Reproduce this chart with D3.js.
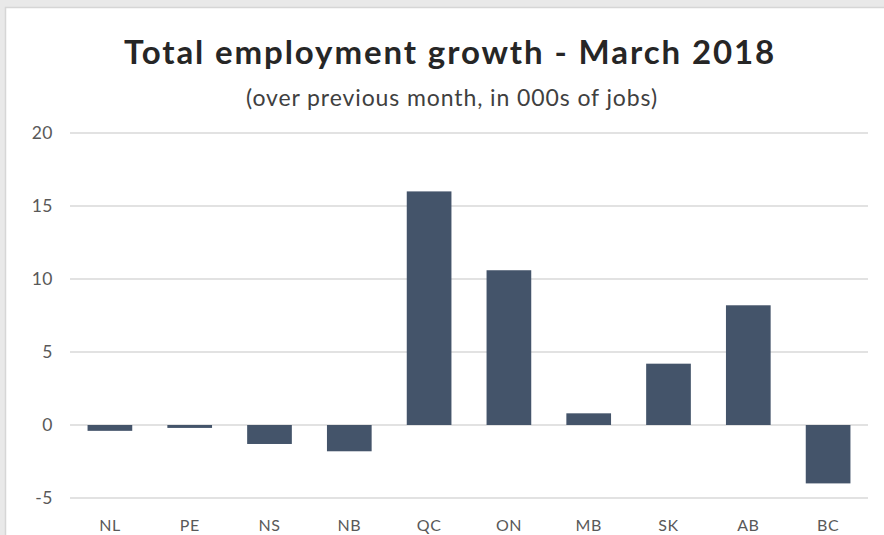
<!DOCTYPE html>
<html>
<head>
<meta charset="utf-8">
<script src="https://cdn.jsdelivr.net/npm/d3@7"></script>
<style>
  html, body { margin: 0; padding: 0; background: #e9e9e9; }
  svg { display: block; }
</style>
</head>
<body>
<script>
const provinces = ["NL", "PE", "NS", "NB", "QC", "ON", "MB", "SK", "AB", "BC"];
const growth = [-0.4, -0.2, -1.3, -1.8, 16.0, 10.6, 0.8, 4.2, 8.2, -4.0];
const yTicks = [-5, 0, 5, 10, 15, 20];
const titleText = "Total employment growth - March 2018";
const subtitleText = "(over previous month, in 000s of jobs)";

const W = 884, H = 535;
const svg = d3.select("body").append("svg").attr("width", W).attr("height", H);

// outer frame
svg.append("rect").attr("x", 0).attr("y", 0).attr("width", W).attr("height", H).attr("fill", "#e9e9e9");
svg.append("rect").attr("x", 5.5).attr("y", 7.5).attr("width", W).attr("height", H).attr("fill", "#fff").attr("stroke", "#d6d6d6").attr("stroke-width", 1.5);

const x = d3.scaleBand().domain(provinces).range([70, 868]).paddingInner(0.44).paddingOuter(0.22);
const y = d3.scaleLinear().domain([-5, 20]).range([498, 133]);

// gridlines
svg.append("g").selectAll("line").data(yTicks).join("line")
  .attr("x1", 70).attr("x2", 868)
  .attr("y1", d => y(d)).attr("y2", d => y(d))
  .attr("stroke", "#d9d9d9").attr("stroke-width", 1.5);

// y axis labels
const yAxis = d3.axisLeft(y).tickValues(yTicks).tickFormat(d => String(d)).tickSize(0).tickPadding(0);
const ya = svg.append("g").attr("transform", "translate(53,0)").call(yAxis);
ya.select(".domain").remove();
ya.selectAll("text").attr("font-family", "Lato, 'Open Sans', sans-serif").attr("font-size", 17.5)
  .attr("letter-spacing", 0.5).attr("fill", "#595959");

// bars
svg.append("g").selectAll("rect").data(growth).join("rect")
  .attr("x", (d, i) => x(provinces[i]))
  .attr("width", x.bandwidth())
  .attr("y", d => y(Math.max(0, d)))
  .attr("height", d => Math.abs(y(d) - y(0)))
  .attr("fill", "#44546a");

// x axis labels
const xAxis = d3.axisBottom(x).tickSize(0).tickPadding(0);
const xa = svg.append("g").attr("transform", "translate(0,0)").call(xAxis);
xa.select(".domain").remove();
xa.selectAll("text").attr("y", 531).attr("dy", 0)
  .attr("font-family", "Lato, 'Open Sans', sans-serif").attr("font-size", 16)
  .attr("letter-spacing", 0.5).attr("fill", "#595959");

// titles
svg.append("text").attr("x", 450).attr("y", 64).attr("text-anchor", "middle")
  .attr("font-family", "Lato, 'Open Sans', sans-serif").attr("font-weight", "bold").attr("font-size", 33)
  .attr("letter-spacing", 1.9).attr("fill", "#262626").text(titleText);
svg.append("text").attr("x", 452).attr("y", 106).attr("text-anchor", "middle")
  .attr("font-family", "Lato, 'Open Sans', sans-serif").attr("font-size", 23)
  .attr("letter-spacing", 0.9).attr("fill", "#404040").text(subtitleText);
</script>
</body>
</html>
